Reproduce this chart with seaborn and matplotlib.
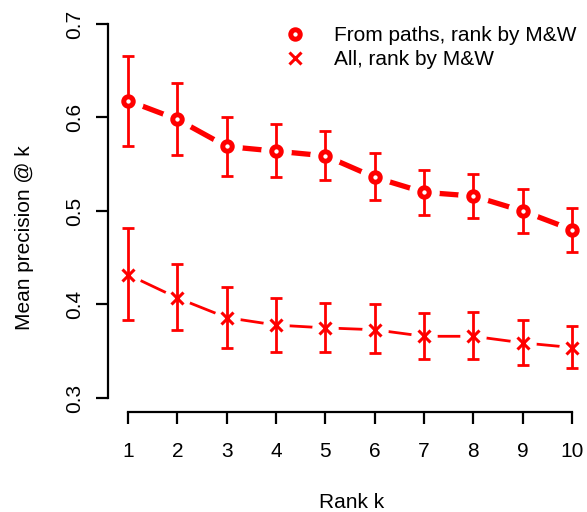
import numpy as np
import pandas as pd
import matplotlib
matplotlib.use("Agg")
import matplotlib.pyplot as plt
from matplotlib.lines import Line2D
import seaborn as sns

# Data
rank_k = [1, 2, 3, 4, 5, 6, 7, 8, 9, 10]

paths_mean = [0.618, 0.598, 0.569, 0.564, 0.559, 0.536, 0.520, 0.516, 0.500, 0.480]
paths_upper = [0.666, 0.637, 0.601, 0.593, 0.586, 0.562, 0.544, 0.540, 0.524, 0.503]
paths_lower = [0.569, 0.560, 0.537, 0.536, 0.533, 0.512, 0.496, 0.493, 0.477, 0.456]

all_mean = [0.432, 0.407, 0.386, 0.378, 0.375, 0.373, 0.366, 0.366, 0.359, 0.354]
all_upper = [0.482, 0.443, 0.419, 0.407, 0.402, 0.400, 0.391, 0.392, 0.383, 0.377]
all_lower = [0.383, 0.373, 0.354, 0.349, 0.349, 0.348, 0.342, 0.342, 0.335, 0.332]

y_ticks = [0.3, 0.4, 0.5, 0.6, 0.7]
legend_labels = ["From paths, rank by M&W", "All, rank by M&W"]

RED = "#ff0000"
W, H = 587, 512
FS = 15

sns.set_style("white")
plt.rcParams["font.family"] = ["Liberation Sans", "DejaVu Sans"]
plt.rcParams["text.color"] = "black"
plt.rcParams["axes.labelcolor"] = "black"

df = pd.DataFrame({
    "k": rank_k * 2,
    "prec": paths_mean + all_mean,
    "series": [legend_labels[0]] * 10 + [legend_labels[1]] * 10,
})

fig = plt.figure(figsize=(W / 100, H / 100), dpi=100)
# plot region in pixels: left 108, right 590, top 9, bottom 412
ax = fig.add_axes([108 / W, (H - 412) / H, (590 - 108) / W, (412 - 9) / H])

sns.lineplot(data=df[df.series == legend_labels[0]], x="k", y="prec", color=RED,
             linewidth=3.8, ax=ax, legend=False, zorder=1)
sns.lineplot(data=df[df.series == legend_labels[1]], x="k", y="prec", color=RED,
             linewidth=2.0, ax=ax, legend=False, zorder=1)

# white halos give the R type="b" gaps around the points
ax.plot(rank_k, paths_mean, "o", ms=21, color="white", zorder=2)
ax.plot(rank_k, all_mean, "o", ms=18, color="white", zorder=2)

p = np.array(paths_mean)
a = np.array(all_mean)
ax.errorbar(rank_k, p, yerr=[p - np.array(paths_lower), np.array(paths_upper) - p],
            fmt="none", ecolor=RED, elinewidth=2.0, capsize=4.5, capthick=2.0, zorder=3)
ax.errorbar(rank_k, a, yerr=[a - np.array(all_lower), np.array(all_upper) - a],
            fmt="none", ecolor=RED, elinewidth=2.0, capsize=4.5, capthick=2.0, zorder=3)

ax.plot(rank_k, paths_mean, "o", ms=6.8, mfc="white", mec=RED, mew=3.6, zorder=4)
ax.plot(rank_k, all_mean, "x", ms=8.0, color=RED, mew=2.2, zorder=4)

ax.set_xlim(1 - 20 / 49.33, 10 + 18 / 49.33)
ax.set_ylim(0.3 - 14 / 935, 0.7 + 15 / 935)

ax.set_xticks(rank_k)
ax.set_yticks(y_ticks)
ax.set_xticklabels([str(k) for k in rank_k])
ax.set_yticklabels([f"{v:.1f}" for v in y_ticks], rotation=90, va="center")

for side in ["top", "right"]:
    ax.spines[side].set_visible(False)
ax.spines["left"].set_bounds(0.3, 0.7)
ax.spines["bottom"].set_bounds(1, 10)
for side in ["left", "bottom"]:
    ax.spines[side].set_linewidth(1.6)
    ax.spines[side].set_color("black")

ax.tick_params(axis="both", direction="out", length=8.5, width=1.6, labelsize=FS,
               colors="black", bottom=True, left=True)
ax.tick_params(axis="x", pad=13)
ax.tick_params(axis="y", pad=9)

ax.set_xlabel("Rank k", fontsize=FS)
ax.set_ylabel("Mean precision @ k", fontsize=FS)
ax.xaxis.set_label_coords(352 / W, 1 - 502 / H, transform=fig.transFigure)
ax.yaxis.set_label_coords(25 / W, 1 - 238 / H, transform=fig.transFigure)
ax.xaxis.label.set_va("center")
ax.yaxis.label.set_va("center")

handles = [
    Line2D([], [], linestyle="none", marker="o", ms=6.8, mfc="white", mec=RED, mew=3.6),
    Line2D([], [], linestyle="none", marker="x", ms=8.0, color=RED, mew=2.2),
]
ax.legend(handles, legend_labels, loc="upper left", bbox_to_anchor=(285 / W, 1 - 26 / H),
          bbox_transform=fig.transFigure, frameon=False, fontsize=FS,
          handlelength=1.0, handletextpad=1.35, labelspacing=0.25, borderpad=0,
          borderaxespad=0)

fig.savefig("out.png", dpi=100)
